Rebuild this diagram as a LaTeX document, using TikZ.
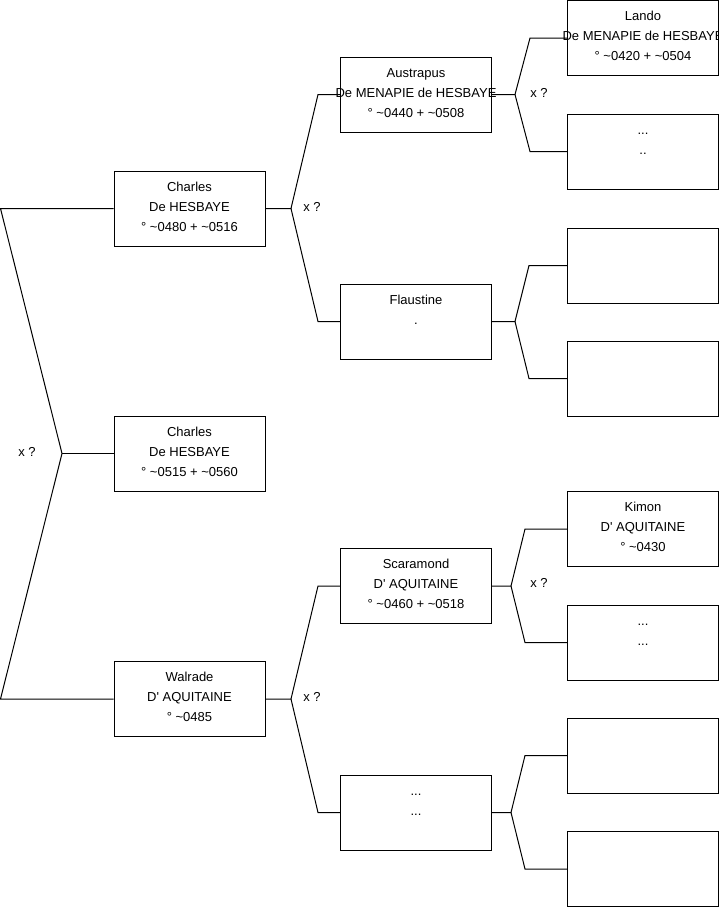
\documentclass[tikz,border=0pt]{standalone}
\usepackage{fontspec}
\setmainfont{Liberation Sans}
\usetikzlibrary{calc}

\tikzset{
  person/.style={draw, line width=1pt, minimum width=151pt, minimum height=75pt,
    inner sep=0pt, align=center, font=\fontsize{13}{20}\selectfont},
  link/.style={line width=1pt},
  union/.style={font=\fontsize{13}{15}\selectfont}
}
% three lines of a person box
\newcommand{\who}[3]{\rule{0pt}{9pt}#1\\#2\\#3\rule[-4pt]{0pt}{4pt}}
\newcommand{\widename}[1]{\makebox[0pt]{#1}}
\newcommand{\aqui}{D\textquotesingle{} AQUITAINE}

\begin{document}
\begin{tikzpicture}[x=1pt, y=-1pt]
  \useasboundingbox (0,0) rectangle (719,908);
  \fill[white] (0,0) rectangle (719,908);

  % generation 1
  \node[person] (charlesA) at (189.5,208.5) {\who{Charles}{De HESBAYE}{° \textasciitilde0480 + \textasciitilde0516}};
  \node[person] (charlesB) at (189.5,453.5) {\who{Charles}{De HESBAYE}{° \textasciitilde0515 + \textasciitilde0560}};
  \node[person] (walrade)  at (189.5,699)   {\who{Walrade}{\aqui}{° \textasciitilde0485}};

  % generation 2
  \node[person] (austrapus) at (416,94.5)  {\who{Austrapus}{\widename{De MENAPIE de HESBAYE}}{° \textasciitilde0440 + \textasciitilde0508}};
  \node[person] (flaustine) at (416,321.5) {\who{Flaustine}{.}{~}};
  \node[person] (scaramond) at (416,586)   {\who{Scaramond}{\aqui}{° \textasciitilde0460 + \textasciitilde0518}};
  \node[person] (unknownB)  at (416,812.5) {\who{...}{...}{~}};

  % generation 3
  \node[person] (lando)    at (643,38)    {\who{Lando}{\widename{De MENAPIE de HESBAYE}}{° \textasciitilde0420 + \textasciitilde0504}};
  \node[person] (unknownA) at (643,151.5) {\who{...}{..}{~}};
  \node[person] (emptyA)   at (643,265.5) {};
  \node[person] (emptyB)   at (643,378.5) {};
  \node[person] (kimon)    at (643,529)   {\who{Kimon}{\aqui}{° \textasciitilde0430}};
  \node[person] (unknownC) at (643,642.5) {\who{...}{...}{~}};
  \node[person] (emptyC)   at (643,755.5) {};
  \node[person] (emptyD)   at (643,869)   {};

  % joints
  \coordinate (j0) at (62,453.5);
  \coordinate (j1) at (291,208.5);
  \coordinate (j2) at (291,699);
  \coordinate (j3) at (515,94.5);
  \coordinate (j4) at (515,321.5);
  \coordinate (j5) at (511,586);
  \coordinate (j6) at (511,812.5);

  % links
  \draw[link] (charlesA.west) -- ([xshift=-113pt]charlesA.west) -- (j0)
    -- ([xshift=-113pt]walrade.west) -- (walrade.west);
  \draw[link] (j0) -- (charlesB.west);

  \draw[link] (charlesA.east) -- (j1) -- ([xshift=-22pt]austrapus.west) -- (austrapus.west);
  \draw[link] (j1) -- ([xshift=-22pt]flaustine.west) -- (flaustine.west);
  \draw[link] (walrade.east) -- (j2) -- ([xshift=-22pt]scaramond.west) -- (scaramond.west);
  \draw[link] (j2) -- ([xshift=-22pt]unknownB.west) -- (unknownB.west);

  \draw[link] (austrapus.east) -- (j3) -- ([xshift=-37pt]lando.west) -- (lando.west);
  \draw[link] (j3) -- ([xshift=-37pt]unknownA.west) -- (unknownA.west);
  \draw[link] (flaustine.east) -- (j4) -- ([xshift=-38pt]emptyA.west) -- (emptyA.west);
  \draw[link] (j4) -- ([xshift=-38pt]emptyB.west) -- (emptyB.west);
  \draw[link] (scaramond.east) -- (j5) -- ([xshift=-42pt]kimon.west) -- (kimon.west);
  \draw[link] (j5) -- ([xshift=-42pt]unknownC.west) -- (unknownC.west);
  \draw[link] (unknownB.east) -- (j6) -- ([xshift=-42pt]emptyC.west) -- (emptyC.west);
  \draw[link] (j6) -- ([xshift=-42pt]emptyD.west) -- (emptyD.west);

  % unions
  \node[union] (x0) at (27,452)  {x ?};
  \node[union] (x1) at (312,207) {x ?};
  \node[union] (x2) at (312,697) {x ?};
  \node[union] (x3) at (539,93)  {x ?};
  \node[union] (x4) at (539,583) {x ?};
\end{tikzpicture}
\end{document}
